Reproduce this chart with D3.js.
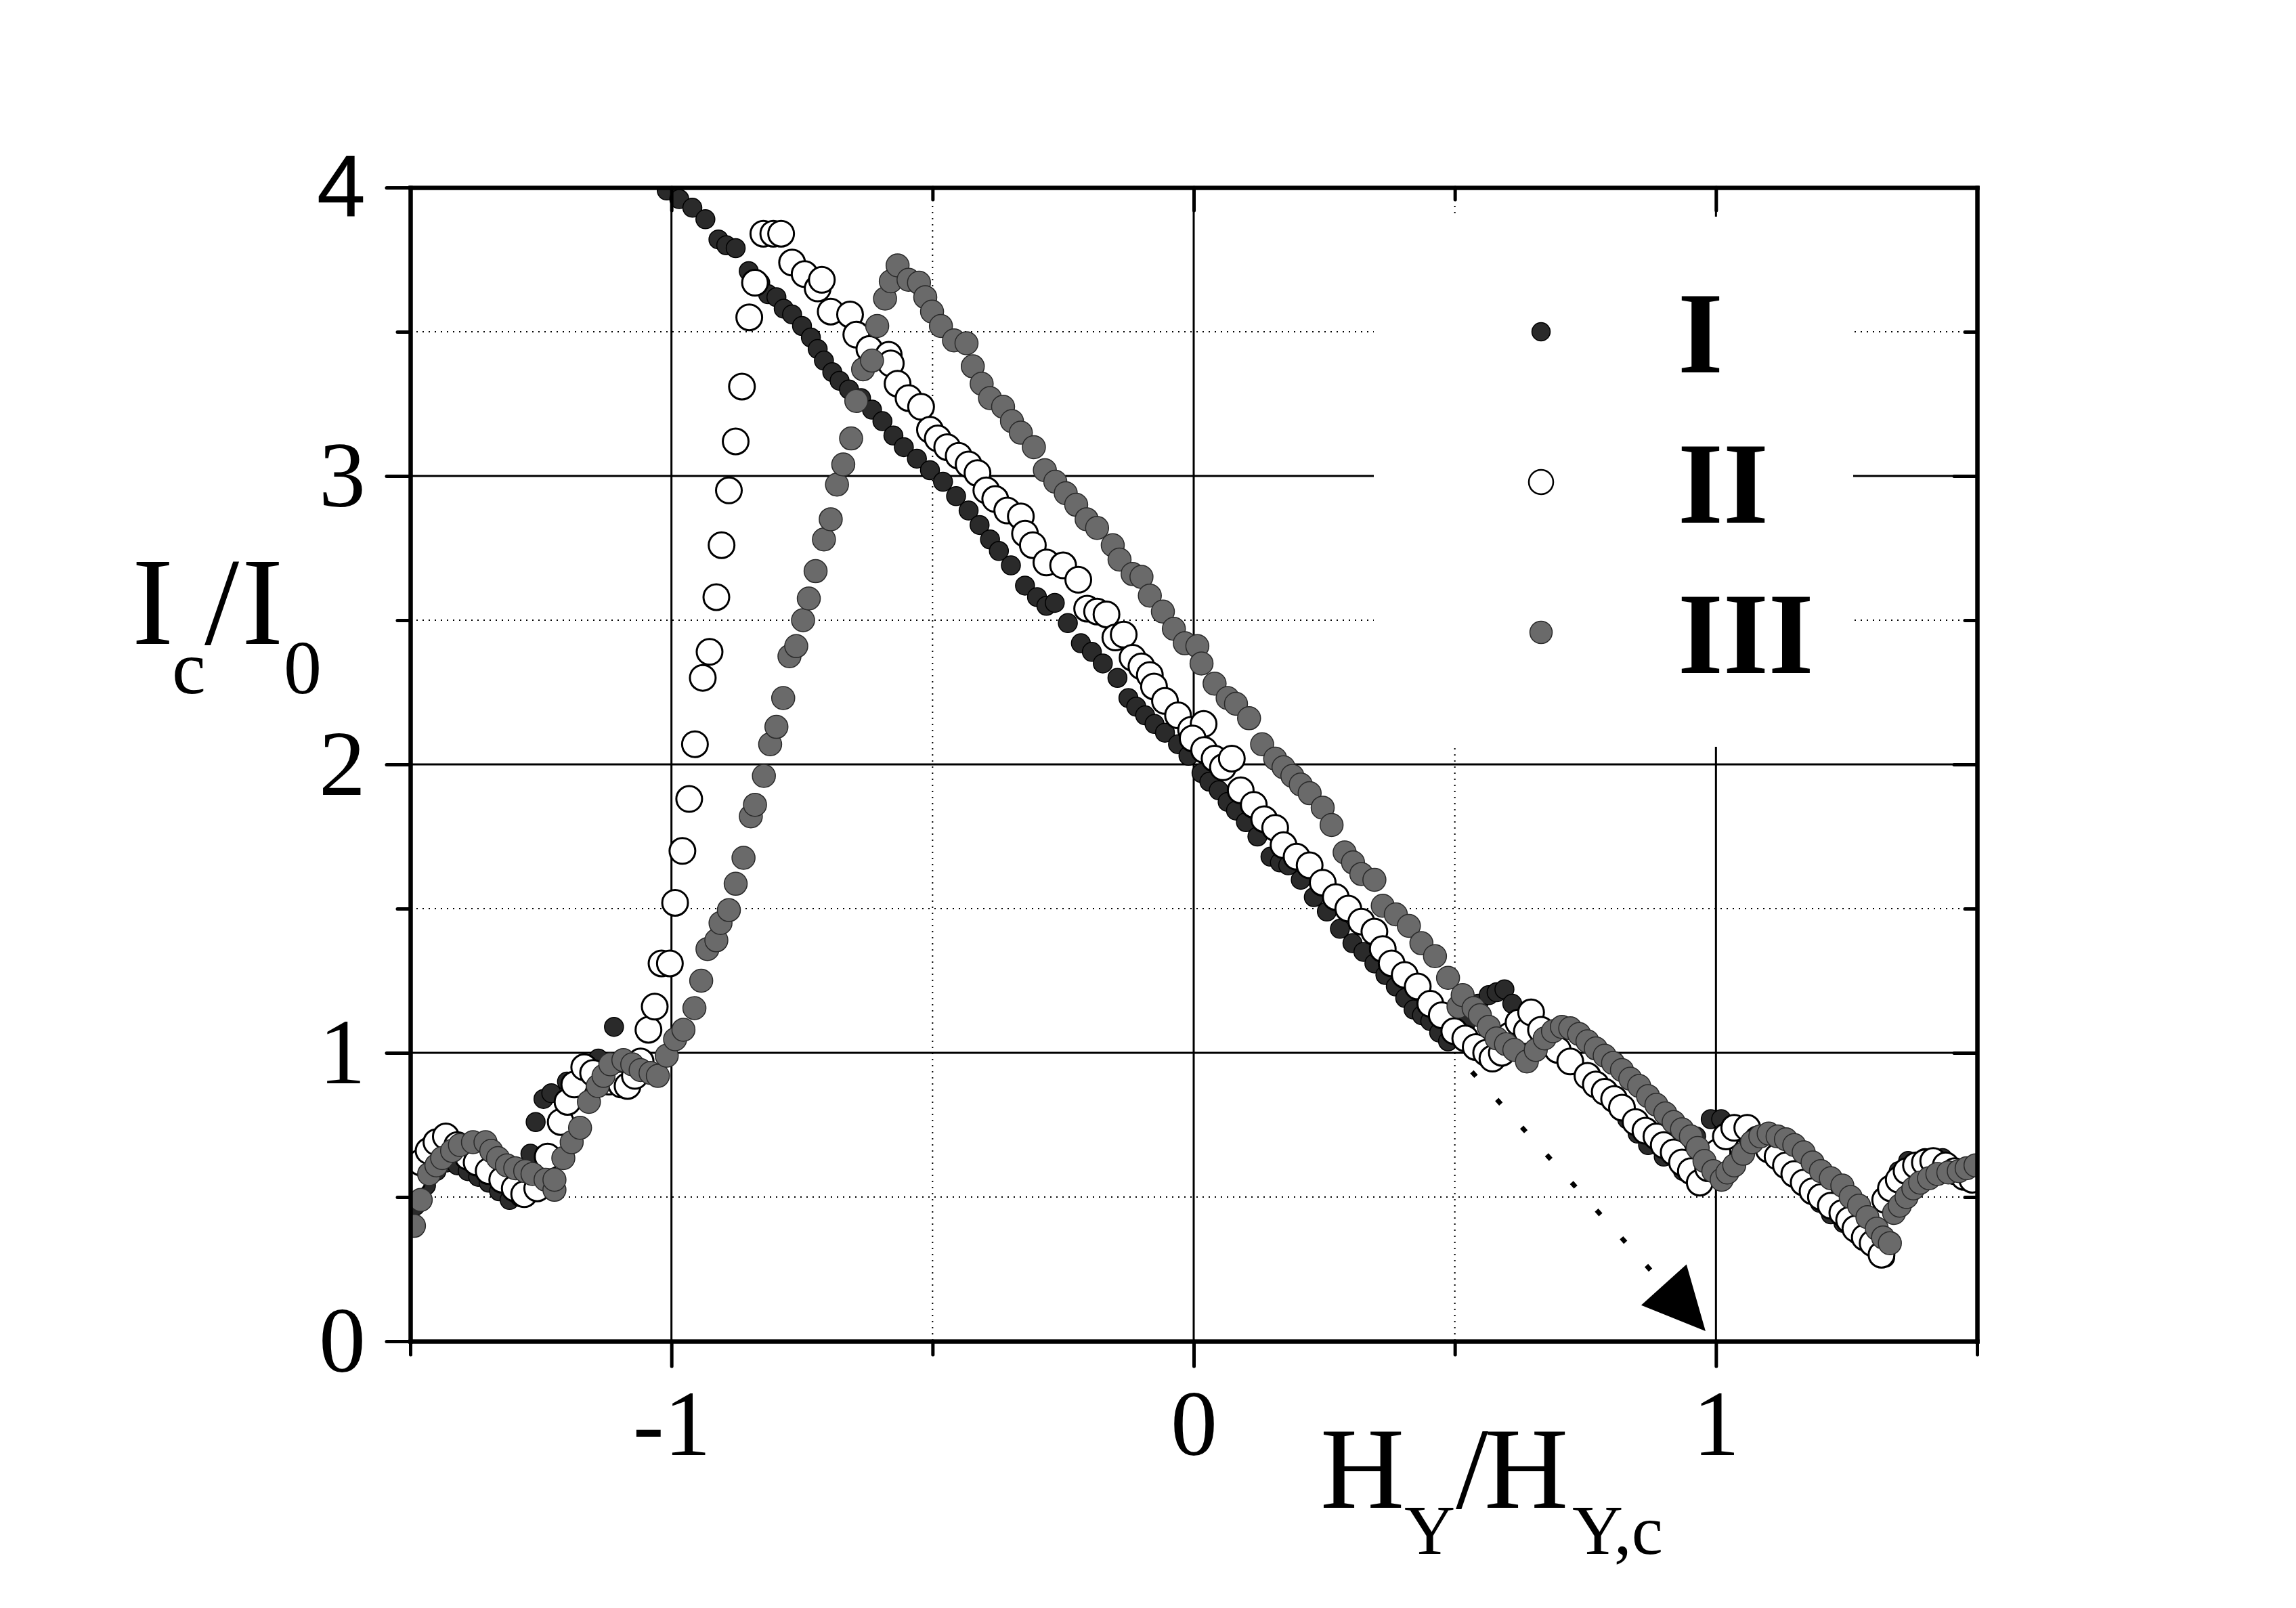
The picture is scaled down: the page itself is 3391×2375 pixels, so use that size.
<!DOCTYPE html>
<html>
<head>
<meta charset="utf-8">
<script src="https://cdn.jsdelivr.net/npm/d3@7"></script>
<style>
  body { margin: 0; background: #fff; }
  text { font-family: "Liberation Serif", "Times New Roman", serif; fill: #000; }
</style>
</head>
<body>
<div id="chart"></div>
<script>
// series: [H_Y/H_Y,c , I_c/I_0]
const seriesI = [
  [-1.49,0.47],[-1.47,0.54],[-1.45,0.59],[-1.43,0.62],[-1.41,0.61],[-1.39,0.59],[-1.37,0.57],[-1.35,0.55],
  [-1.33,0.52],[-1.31,0.49],[-1.29,0.50],[-1.27,0.65],[-1.26,0.76],[-1.245,0.84],[-1.23,0.86],[-1.20,0.90],
  [-1.17,0.93],[-1.14,0.98],[-1.11,1.09],
  [-1.009,3.99],[-0.985,3.96],[-0.96,3.93],[-0.935,3.89],[-0.91,3.82],[-0.895,3.80],[-0.877,3.79],[-0.852,3.71],
  [-0.83,3.67],[-0.815,3.63],[-0.799,3.62],[-0.785,3.58],[-0.769,3.56],[-0.75,3.52],[-0.733,3.48],[-0.72,3.44],
  [-0.708,3.40],[-0.692,3.36],[-0.678,3.33],[-0.66,3.30],[-0.637,3.27],[-0.616,3.23],[-0.596,3.19],[-0.575,3.14],
  [-0.555,3.10],[-0.53,3.06],[-0.505,3.02],[-0.48,2.98],[-0.455,2.93],[-0.431,2.88],[-0.41,2.83],[-0.39,2.78],
  [-0.373,2.74],[-0.35,2.69],[-0.323,2.62],[-0.30,2.58],[-0.282,2.55],[-0.266,2.56],[-0.241,2.49],[-0.216,2.42],
  [-0.195,2.39],[-0.174,2.35],[-0.146,2.30],[-0.125,2.23],[-0.11,2.20],[-0.093,2.17],[-0.075,2.14],[-0.055,2.11],
  [-0.03,2.07],[-0.01,2.03],[0.015,1.97],[0.03,1.94],[0.048,1.91],[0.065,1.87],[0.081,1.84],[0.10,1.80],
  [0.122,1.75],[0.147,1.68],[0.165,1.66],[0.181,1.65],[0.205,1.60],[0.23,1.54],[0.255,1.49],[0.28,1.43],
  [0.304,1.38],[0.325,1.35],[0.346,1.31],[0.367,1.27],[0.387,1.23],[0.405,1.19],[0.421,1.15],[0.437,1.13],
  [0.453,1.11],[0.47,1.07],[0.487,1.04],[0.52,1.10],[0.545,1.17],[0.565,1.20],[0.58,1.21],[0.595,1.22],
  [0.61,1.17],[0.63,1.12],[0.655,1.07],[0.68,1.04],[0.70,1.02],[0.725,0.98],[0.746,0.93],[0.77,0.89],
  [0.80,0.83],[0.83,0.77],[0.85,0.72],[0.87,0.68],[0.90,0.64],[0.937,0.59],[0.95,0.60],[0.962,0.71],
  [0.99,0.77],[1.01,0.77],[1.03,0.74],[1.06,0.71],[1.09,0.69],[1.12,0.67],[1.15,0.61],[1.175,0.55],
  [1.199,0.48],[1.22,0.44],[1.244,0.41],[1.27,0.37],[1.295,0.34],[1.315,0.30],[1.324,0.29],[1.338,0.55],
  [1.35,0.59],[1.368,0.625],[1.40,0.635],[1.434,0.635],[1.471,0.59],[1.50,0.57]
]

const seriesII = [
  [-1.495,0.56],[-1.48,0.62],[-1.465,0.66],[-1.45,0.69],[-1.432,0.71],[-1.41,0.68],[-1.39,0.64],[-1.373,0.62],
  [-1.35,0.59],[-1.324,0.56],[-1.30,0.53],[-1.282,0.51],[-1.257,0.53],[-1.237,0.64],[-1.212,0.76],[-1.199,0.83],
  [-1.186,0.89],[-1.167,0.95],[-1.15,0.93],[-1.12,0.90],[-1.096,0.89],[-1.084,0.885],[-1.07,0.92],[-1.059,0.97],
  [-1.044,1.08],[-1.032,1.16],[-1.019,1.31],[-1.003,1.31],[-0.993,1.52],[-0.979,1.70],[-0.966,1.88],[-0.955,2.07],
  [-0.94,2.30],[-0.927,2.39],[-0.914,2.58],[-0.904,2.76],[-0.89,2.95],[-0.877,3.12],[-0.865,3.31],[-0.851,3.55],
  [-0.84,3.67],[-0.824,3.84],[-0.805,3.84],[-0.79,3.84],[-0.769,3.74],[-0.745,3.70],[-0.72,3.65],[-0.712,3.68],
  [-0.695,3.57],[-0.658,3.56],[-0.646,3.49],[-0.621,3.44],[-0.584,3.42],[-0.58,3.39],[-0.567,3.32],[-0.546,3.27],
  [-0.522,3.24],[-0.505,3.16],[-0.49,3.13],[-0.472,3.10],[-0.45,3.07],[-0.431,3.04],[-0.414,3.01],[-0.397,2.95],
  [-0.38,2.92],[-0.357,2.88],[-0.331,2.86],[-0.323,2.80],[-0.308,2.76],[-0.282,2.70],[-0.25,2.69],[-0.221,2.64],
  [-0.204,2.54],[-0.185,2.53],[-0.167,2.52],[-0.15,2.44],[-0.134,2.45],[-0.117,2.37],[-0.10,2.34],[-0.084,2.31],
  [-0.076,2.27],[-0.055,2.22],[-0.03,2.17],[-0.005,2.12],[0.019,2.14],[-0.002,2.09],[0.02,2.05],[0.04,2.02],
  [0.056,1.99],[0.073,2.02],[0.09,1.91],[0.115,1.86],[0.135,1.81],[0.156,1.78],[0.172,1.72],[0.197,1.68],
  [0.222,1.65],[0.247,1.59],[0.272,1.54],[0.296,1.50],[0.321,1.455],[0.346,1.42],[0.362,1.36],[0.379,1.31],
  [0.404,1.27],[0.429,1.23],[0.453,1.17],[0.475,1.13],[0.499,1.075],[0.52,1.05],[0.54,1.02],[0.56,1.00],
  [0.572,0.98],[0.59,1.00],[0.605,1.06],[0.622,1.105],[0.638,1.075],[0.646,1.14],[0.665,1.08],[0.68,1.04],
  [0.697,1.01],[0.721,0.97],[0.754,0.92],[0.77,0.89],[0.787,0.865],[0.805,0.84],[0.82,0.81],[0.846,0.76],
  [0.865,0.73],[0.886,0.71],[0.90,0.68],[0.919,0.655],[0.935,0.62],[0.952,0.59],[0.969,0.55],[0.985,0.60],
  [1.003,0.655],[1.019,0.71],[1.035,0.74],[1.06,0.74],[1.08,0.70],[1.101,0.665],[1.118,0.64],[1.134,0.61],
  [1.15,0.58],[1.168,0.55],[1.185,0.52],[1.201,0.50],[1.22,0.47],[1.242,0.445],[1.255,0.42],[1.267,0.39],
  [1.285,0.36],[1.30,0.34],[1.317,0.30],[1.324,0.49],[1.335,0.53],[1.35,0.56],[1.365,0.59],[1.383,0.61],
  [1.40,0.62],[1.416,0.625],[1.44,0.61],[1.457,0.59],[1.475,0.57],[1.491,0.56]
]

const seriesIII = [
  [-1.493,0.40],[-1.48,0.49],[-1.464,0.58],[-1.45,0.61],[-1.439,0.635],[-1.42,0.66],[-1.405,0.68],[-1.38,0.69],
  [-1.356,0.69],[-1.345,0.66],[-1.332,0.635],[-1.315,0.61],[-1.299,0.60],[-1.28,0.59],[-1.266,0.58],[-1.241,0.56],
  [-1.224,0.525],[-1.224,0.56],[-1.207,0.635],[-1.191,0.69],[-1.175,0.74],[-1.158,0.83],[-1.141,0.885],[-1.13,0.92],
  [-1.117,0.96],[-1.092,0.975],[-1.075,0.96],[-1.059,0.94],[-1.04,0.93],[-1.026,0.92],[-1.009,0.99],[-0.993,1.047],
  [-0.977,1.08],[-0.956,1.155],[-0.943,1.25],[-0.931,1.36],[-0.914,1.39],[-0.906,1.45],[-0.89,1.495],[-0.877,1.586],
  [-0.862,1.676],[-0.848,1.82],[-0.84,1.86],[-0.823,1.96],[-0.811,2.07],[-0.799,2.13],[-0.786,2.23],[-0.774,2.375],
  [-0.761,2.41],[-0.748,2.50],[-0.737,2.575],[-0.724,2.67],[-0.708,2.78],[-0.695,2.85],[-0.683,2.97],[-0.671,3.04],
  [-0.656,3.13],[-0.646,3.26],[-0.633,3.37],[-0.616,3.40],[-0.606,3.52],[-0.591,3.615],[-0.58,3.675],[-0.567,3.73],
  [-0.546,3.68],[-0.526,3.67],[-0.514,3.62],[-0.501,3.57],[-0.484,3.52],[-0.459,3.47],[-0.435,3.46],[-0.423,3.38],
  [-0.406,3.32],[-0.39,3.27],[-0.365,3.24],[-0.348,3.19],[-0.331,3.15],[-0.306,3.10],[-0.285,3.02],[-0.265,2.98],
  [-0.245,2.94],[-0.225,2.90],[-0.205,2.85],[-0.185,2.82],[-0.155,2.76],[-0.142,2.71],[-0.117,2.66],[-0.10,2.65],
  [-0.084,2.585],[-0.059,2.53],[-0.038,2.47],[-0.017,2.42],[0.007,2.41],[0.015,2.35],[0.04,2.28],[0.065,2.23],
  [0.081,2.21],[0.106,2.16],[0.131,2.07],[0.156,2.02],[0.172,1.99],[0.189,1.96],[0.205,1.93],[0.222,1.90],
  [0.247,1.85],[0.264,1.79],[0.289,1.695],[0.305,1.66],[0.321,1.62],[0.346,1.60],[0.362,1.51],[0.387,1.48],
  [0.412,1.44],[0.436,1.38],[0.462,1.335],[0.487,1.26],[0.507,1.16],[0.515,1.20],[0.536,1.155],[0.548,1.13],
  [0.565,1.09],[0.58,1.05],[0.598,1.03],[0.614,1.01],[0.638,0.97],[0.655,1.01],[0.672,1.05],[0.688,1.075],
  [0.705,1.09],[0.721,1.085],[0.738,1.065],[0.754,1.04],[0.77,1.015],[0.787,0.99],[0.803,0.965],[0.82,0.94],
  [0.836,0.91],[0.853,0.885],[0.87,0.85],[0.886,0.82],[0.903,0.79],[0.919,0.76],[0.935,0.735],[0.952,0.71],
  [0.965,0.67],[0.978,0.625],[0.995,0.59],[1.011,0.56],[1.022,0.585],[1.035,0.61],[1.052,0.65],[1.069,0.69],
  [1.085,0.71],[1.101,0.72],[1.118,0.71],[1.134,0.70],[1.15,0.68],[1.168,0.655],[1.185,0.62],[1.201,0.59],
  [1.22,0.565],[1.242,0.54],[1.258,0.50],[1.274,0.47],[1.29,0.43],[1.308,0.39],[1.32,0.36],[1.333,0.34],
  [1.341,0.445],[1.352,0.47],[1.365,0.50],[1.378,0.53],[1.391,0.55],[1.408,0.565],[1.424,0.58],[1.445,0.585],
  [1.465,0.59],[1.48,0.60],[1.497,0.61]
]

const seriesNames = ["I", "II", "III"]
const xMajorTicks = [-1, 0, 1]
const xMinorTicks = [-1.5, -0.5, 0.5, 1.5]
const yMajorTicks = [0, 1, 2, 3, 4]
const yMinorTicks = [0.5, 1.5, 2.5, 3.5]
// dotted arrow: start point and tip, in data units
const arrowPoints = [[0.485, 1.03], [0.98, 0.035]]

const totalWidth = 3391
const totalHeight = 2375
const margins = { left: 606, top: 277, right: 471, bottom: 394 }
const width = totalWidth - margins.left - margins.right
const height = totalHeight - margins.top - margins.bottom

// marker looks: data and legend share them
const styles = [
  { r: 14, fill: "#2a2a2a", stroke: "#000", sw: 1.5 },
  { r: 19, fill: "#ffffff", stroke: "#000", sw: 3 },
  { r: 17, fill: "#6a6a6a", stroke: "#2a2a2a", sw: 1.5 }
]
const legendStyles = [
  { r: 13.5 }, { r: 18 }, { r: 16.5 }
]

const serif = "'Liberation Serif', 'Times New Roman', serif"

const svg = d3.select("#chart")
  .append("svg")
  .attr("width", totalWidth)
  .attr("height", totalHeight)

svg.append("rect").attr("width", totalWidth).attr("height", totalHeight).attr("fill", "#fff")

const g = svg.append("g").attr("transform", `translate(${margins.left}, ${margins.top})`)

const x = d3.scaleLinear().domain([-1.5, 1.5]).range([0, width])
const y = d3.scaleLinear().domain([0, 4]).range([height, 0])

g.append("clipPath").attr("id", "clip")
  .append("rect").attr("width", width).attr("height", height)

// grid
const grid = g.append("g")
grid.selectAll(".gxM").data(xMajorTicks).enter().append("line")
  .attr("x1", (d) => x(d)).attr("x2", (d) => x(d)).attr("y1", 0).attr("y2", height)
  .attr("stroke", "#000").attr("stroke-width", 3)
grid.selectAll(".gxm").data(xMinorTicks.filter((d) => Math.abs(d) < 1.5)).enter().append("line")
  .attr("x1", (d) => x(d)).attr("x2", (d) => x(d)).attr("y1", 0).attr("y2", height)
  .attr("stroke", "#000").attr("stroke-width", 2).attr("stroke-dasharray", "2 7")
grid.selectAll(".gyM").data(yMajorTicks.filter((d) => d > 0 && d < 4)).enter().append("line")
  .attr("x1", 0).attr("x2", width).attr("y1", (d) => y(d)).attr("y2", (d) => y(d))
  .attr("stroke", "#000").attr("stroke-width", 3)
grid.selectAll(".gym").data(yMinorTicks).enter().append("line")
  .attr("x1", 0).attr("x2", width).attr("y1", (d) => y(d)).attr("y2", (d) => y(d))
  .attr("stroke", "#000").attr("stroke-width", 2).attr("stroke-dasharray", "2 7")

// legend box hides the grid behind it
g.append("rect")
  .attr("x", 2029 - margins.left).attr("y", 320 - margins.top)
  .attr("width", 708).attr("height", 783)
  .attr("fill", "#fff")

// arrow
const a0 = [x(arrowPoints[0][0]), y(arrowPoints[0][1])]
const a1 = [x(arrowPoints[1][0]), y(arrowPoints[1][1])]
const alen = Math.hypot(a1[0] - a0[0], a1[1] - a0[1])
const ux = (a1[0] - a0[0]) / alen, uy = (a1[1] - a0[1]) / alen
const headLen = 92, headHalf = 45
const base = [a1[0] - ux * headLen, a1[1] - uy * headLen]
g.append("line")
  .attr("x1", a0[0]).attr("y1", a0[1]).attr("x2", base[0]).attr("y2", base[1])
  .attr("stroke", "#000").attr("stroke-width", 7).attr("stroke-dasharray", "9 46")
g.append("polygon")
  .attr("points", [a1, [base[0] - uy * headHalf, base[1] + ux * headHalf], [base[0] + uy * headHalf, base[1] - ux * headHalf]].map((p) => p.join(",")).join(" "))
  .attr("fill", "#000")

// data
const points = g.append("g").attr("clip-path", "url(#clip)")
;[seriesI, seriesII, seriesIII].forEach((s, i) => {
  const st = styles[i]
  points.append("g").selectAll("circle").data(s).enter().append("circle")
    .attr("cx", (d) => x(d[0]))
    .attr("cy", (d) => y(d[1]))
    .attr("r", st.r)
    .attr("fill", st.fill)
    .attr("stroke", st.stroke)
    .attr("stroke-width", st.sw)
})

// legend
const legendY = [490, 712, 934]
const legend = svg.append("g")
seriesNames.forEach((name, i) => {
  const st = styles[i]
  legend.append("circle")
    .attr("cx", 2276).attr("cy", legendY[i])
    .attr("r", legendStyles[i].r).attr("fill", st.fill).attr("stroke", st.stroke).attr("stroke-width", Math.min(st.sw, 2.5))
  legend.append("text")
    .attr("x", 2478).attr("y", legendY[i] + 60)
    .style("font-family", serif)
    .style("font-size", "172px").style("font-weight", "bold")
    .text(name)
})

// axes
const styleAxis = (sel) => {
  sel.select(".domain").attr("stroke-width", 6).attr("stroke-linecap", "square")
  sel.selectAll(".tick line").attr("stroke-width", 5).attr("stroke-linecap", "round")
  sel.selectAll("text").style("font-size", "138px").style("font-family", serif)
}
const plainNumber = (d) => String(d)

g.append("g").attr("transform", `translate(0, ${height})`)
  .call(d3.axisBottom(x).tickValues(xMinorTicks).tickSize(20).tickSizeOuter(0).tickFormat(""))
  .call(styleAxis)
g.append("g").attr("transform", `translate(0, ${height})`)
  .call(d3.axisBottom(x).tickValues(xMajorTicks).tickSize(37).tickSizeOuter(0).tickPadding(33).tickFormat(plainNumber))
  .call(styleAxis)

g.append("g")
  .call(d3.axisLeft(y).tickValues(yMinorTicks).tickSize(19).tickSizeOuter(0).tickFormat(""))
  .call(styleAxis)
const yAxisG = g.append("g")
  .call(d3.axisLeft(y).tickValues(yMajorTicks).tickSize(35).tickSizeOuter(0).tickPadding(31).tickFormat(plainNumber))
  .call(styleAxis)
yAxisG.selectAll("text").filter((d) => d === 4)
  .style("font-family", "'Liberation Sans', Arial, sans-serif").style("font-size", "130px")

g.append("g")
  .call(d3.axisTop(x).tickValues(xMinorTicks).tickSize(-18).tickSizeOuter(0).tickFormat(""))
  .call(styleAxis)
g.append("g")
  .call(d3.axisTop(x).tickValues(xMajorTicks).tickSize(-34).tickSizeOuter(0).tickFormat(""))
  .call(styleAxis)
g.append("g").attr("transform", `translate(${width}, 0)`)
  .call(d3.axisRight(y).tickValues(yMinorTicks).tickSize(-18).tickSizeOuter(0).tickFormat(""))
  .call(styleAxis)
g.append("g").attr("transform", `translate(${width}, 0)`)
  .call(d3.axisRight(y).tickValues(yMajorTicks).tickSize(-34).tickSizeOuter(0).tickFormat(""))
  .call(styleAxis)

// axis titles
const yTitle = svg.append("text").attr("y", 951).style("font-size", "184px").style("font-family", serif)
yTitle.append("tspan").attr("x", 195).attr("y", 951).text("I")
yTitle.append("tspan").attr("x", 254).attr("y", 1024).style("font-size", "112px").text("c")
yTitle.append("tspan").attr("x", 302).attr("y", 951).text("/")
yTitle.append("tspan").attr("x", 357).attr("y", 951).text("I")
yTitle.append("tspan").attr("x", 419).attr("y", 1024).style("font-size", "112px").text("0")

const xTitle = svg.append("text").attr("y", 2227).style("font-size", "172px").style("font-family", serif)
xTitle.append("tspan").attr("x", 1950).attr("y", 2227).text("H")
xTitle.append("tspan").attr("x", 2074).attr("y", 2295).style("font-size", "104px").text("Y")
xTitle.append("tspan").attr("x", 2150).attr("y", 2227).text("/")
xTitle.append("tspan").attr("x", 2192).attr("y", 2227).text("H")
xTitle.append("tspan").attr("x", 2322).attr("y", 2295).style("font-size", "104px").text("Y,c")
</script>
</body>
</html>
